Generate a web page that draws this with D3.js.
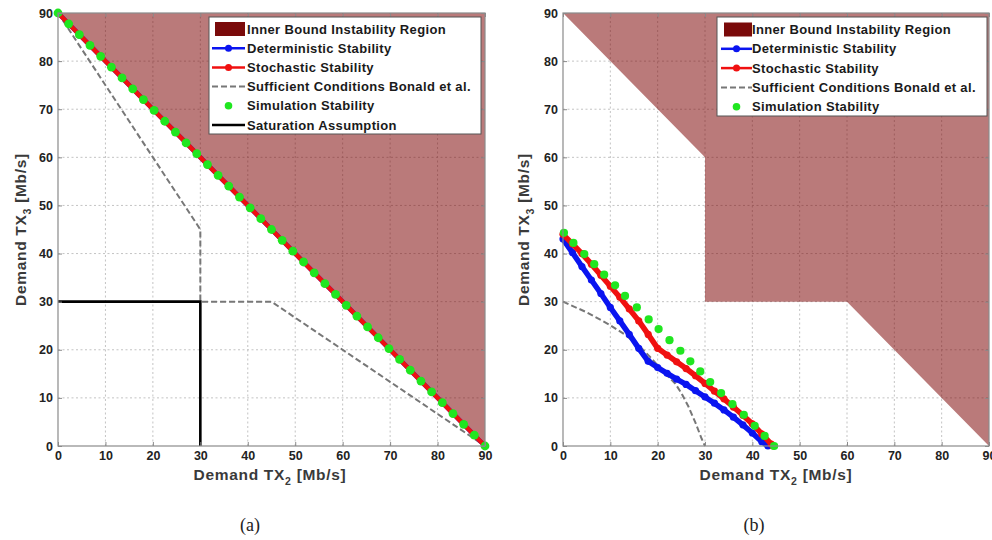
<!DOCTYPE html>
<html><head><meta charset="utf-8">
<script src="https://cdn.jsdelivr.net/npm/d3@7"></script>
<style>body{margin:0;background:#fff}svg{display:block}</style>
</head><body>
<svg id="c" width="992" height="540"></svg>
<script>
// ---------- data ----------
const xTicks = [0,10,20,30,40,50,60,70,80,90];
const yTicks = [0,10,20,30,40,50,60,70,80,90];

const legendLabels = ["Inner Bound Instability Region","Deterministic Stability","Stochastic Stability","Sufficient Conditions Bonald et al.","Simulation Stability","Saturation Assumption"];

// panel (a)
const regionA_x = [0,90,90];
const regionA_y = [90,90,0];
const detA_x = [0,4.5,9,13.5,18,22.5,27,31.5,36,40.5,45,49.5,54,58.5,63,67.5,72,76.5,81,85.5,90];
const detA_y = [90,85.5,81,76.5,72,67.5,63,58.5,54,49.5,45,40.5,36,31.5,27,22.5,18,13.5,9,4.5,0];
const stochA_x = [0,4.5,9,13.5,18,22.5,27,31.5,36,40.5,45,49.5,54,58.5,63,67.5,72,76.5,81,85.5,90];
const stochA_y = [90,85.5,81,76.5,72,67.5,63,58.5,54,49.5,45,40.5,36,31.5,27,22.5,18,13.5,9,4.5,0];
const bonaldA_x = [0,20,30,30,45,90];
const bonaldA_y = [90,60,45,30,30,0];
const simA_x = [0,2.25,4.5,6.75,9,11.25,13.5,15.75,18,20.25,22.5,24.75,27,29.25,31.5,33.75,36,38.25,40.5,42.75,45,47.25,49.5,51.75,54,56.25,58.5,60.75,63,65.25,67.5,69.75,72,74.25,76.5,78.75,81,83.25,85.5,87.75,90];
const simA_y = [90,87.75,85.5,83.25,81,78.75,76.5,74.25,72,69.75,67.5,65.25,63,60.75,58.5,56.25,54,51.75,49.5,47.25,45,42.75,40.5,38.25,36,33.75,31.5,29.25,27,24.75,22.5,20.25,18,15.75,13.5,11.25,9,6.75,4.5,2.25,0];
const satA_x = [0,30,30];
const satA_y = [30,30,0];

// panel (b)
const regionB_x = [0,30,30,60,90,90];
const regionB_y = [90,60,30,30,0,90];
const detB_x = [0,2,4,6,8,10,12,14,16,18,20,22,24,26,28,30,32,34,36,38,40,42,43.3];
const detB_y = [43,40.2,37.3,34.5,31.7,28.8,26,23.2,20.3,17.6,16.3,15.1,13.9,12.8,11.5,10.2,8.9,7.5,6,4.4,2.7,0.9,0];
const stochB_x = [0,2,4,6,8,10,12,14,16,18,20,22,24,26,28,30,32,34,36,38,40,42,44,44.4];
const stochB_y = [44,42,40,37.8,35.5,33.2,30.9,28.5,26,23.2,20.3,18.9,17.5,16.1,14.6,13,11.4,9.8,8.1,6.4,4.6,2.5,0.4,0];
const bonaldB_x = [0,5,10,13,16,18.7,21,23.7,25,26.5,28,29.3,30];
const bonaldB_y = [30,27.8,25.1,23.2,20.9,18.2,15.6,13,11,8.2,4.8,1.5,0];
const simB_x = [0.2,2.2,4.5,6.6,8.7,11,13.1,15.6,18.1,20.2,22.5,24.8,26.9,29,31.1,33.4,35.8,38.2,40.5,42.6,44.6];
const simB_y = [44.3,42.2,39.9,37.8,35.6,33.4,31.2,28.8,26.3,24.3,22,19.8,17.6,15.5,13.3,11,8.7,6.5,4.2,2.1,0];

// ---------- styles ----------
const C = {region:"#7a0000", det:"#0a14f0", stoch:"#f01010", bonald:"#777777", sim:"#20e620", sat:"#000000"};
const FONT = "'Liberation Sans', Arial, Helvetica, sans-serif";

const svg = d3.select("#c");
const zip = (xs, ys) => xs.map((v,i)=>[v, ys[i]]);

function panel(o){
  const g = svg.append("g");
  const x = d3.scaleLinear().domain([0,90]).range([o.x0, o.x1]);
  const y = d3.scaleLinear().domain([0,90]).range([o.y0, o.y1]);
  const line = d3.line().x(d=>x(d[0])).y(d=>y(d[1]));

  // grid
  const grid = g.append("g").attr("stroke","#bcbcbc").attr("stroke-width",0.9).attr("stroke-dasharray","2,2.5");
  grid.selectAll(".gx").data(xTicks.slice(1,-1)).join("line")
    .attr("x1",d=>x(d)).attr("x2",d=>x(d)).attr("y1",y(0)).attr("y2",y(90));
  grid.selectAll(".gy").data(yTicks.slice(1,-1)).join("line")
    .attr("y1",d=>y(d)).attr("y2",d=>y(d)).attr("x1",x(0)).attr("x2",x(90));

  // region
  g.append("path").datum(zip(o.rx,o.ry)).attr("d", d=>line(d)+"Z")
    .attr("fill",C.region).attr("fill-opacity",0.52).attr("stroke","none");

  // bonald
  g.append("path").datum(zip(o.bx,o.by)).attr("d",line).attr("fill","none")
    .attr("stroke",C.bonald).attr("stroke-width",2).attr("stroke-dasharray","6,3");

  if (o.sx){
    g.append("path").datum(zip(o.sx,o.sy)).attr("d",line).attr("fill","none")
      .attr("stroke",C.sat).attr("stroke-width",2.6);
  }

  // deterministic
  const det = zip(o.dx,o.dy);
  g.append("path").datum(det).attr("d",line).attr("fill","none").attr("stroke",C.det).attr("stroke-width",o.lw).attr("stroke-linejoin","round");
  g.selectAll(".dm").data(det).join("circle").attr("cx",d=>x(d[0])).attr("cy",d=>y(d[1])).attr("r",3.6).attr("fill",C.det);
  // stochastic
  const st = zip(o.stx,o.sty);
  g.append("path").datum(st).attr("d",line).attr("fill","none").attr("stroke",C.stoch).attr("stroke-width",o.lw).attr("stroke-linejoin","round");
  g.selectAll(".sm").data(st).join("circle").attr("cx",d=>x(d[0])).attr("cy",d=>y(d[1])).attr("r",3.6).attr("fill",C.stoch);
  // simulation
  g.selectAll(".sim").data(zip(o.mx,o.my)).join("circle")
    .attr("cx",d=>x(d[0])).attr("cy",d=>y(d[1])).attr("r",o.simR).attr("fill",C.sim);

  // box
  g.append("rect").attr("x",x(0)).attr("y",y(90)).attr("width",x(90)-x(0)).attr("height",y(0)-y(90))
    .attr("fill","none").attr("stroke","#8a8a8a").attr("stroke-width",1.2);

  // axes
  const ax = (axis, tr) => {
    const a = g.append("g").attr("transform",tr).call(axis);
    a.select(".domain").remove();
    a.selectAll("line").attr("stroke","#8a8a8a");
    a.selectAll("text").attr("font-family",FONT).attr("font-size",12.5).attr("font-weight","bold").attr("fill","#222");
    return a;
  };
  ax(d3.axisBottom(x).tickValues(xTicks).tickSizeInner(-4).tickSizeOuter(0).tickPadding(5), `translate(0,${y(0)})`);
  ax(d3.axisLeft(y).tickValues(yTicks).tickSizeInner(-4).tickSizeOuter(0).tickPadding(5), `translate(${x(0)},0)`);
  ax(d3.axisTop(x).tickValues(xTicks).tickSizeInner(-4).tickSizeOuter(0).tickFormat(""), `translate(0,${y(90)})`);
  ax(d3.axisRight(y).tickValues(yTicks).tickSizeInner(-4).tickSizeOuter(0).tickFormat(""), `translate(${x(90)},0)`);

  // axis labels
  const lab = (sel, sub) => {
    sel.attr("font-family",FONT).attr("font-size",15.5).attr("font-weight","bold").attr("letter-spacing",0.7).attr("fill","#3a3a3a");
    sel.append("tspan").text("Demand TX");
    sel.append("tspan").attr("font-size",10.5).attr("dy",5).text(sub);
    sel.append("tspan").attr("dy",-5).text(" [Mb/s]");
  };
  lab(svg.append("text").attr("x",o.xlX).attr("y",o.xlY).attr("text-anchor","middle"), "2");
  lab(svg.append("text").attr("transform",`translate(${o.ylX},${(y(0)+y(90))/2}) rotate(-90)`).attr("text-anchor","middle"), "3");

  // caption
  svg.append("text").attr("x",o.capX).attr("y",531).attr("text-anchor","middle")
    .attr("font-family","'Liberation Serif','DejaVu Serif',serif").attr("font-size",18).attr("fill","#222").text(o.cap);

  // legend
  const L = o.leg;
  const lg = svg.append("g");
  lg.append("rect").attr("x",L.x).attr("y",L.y).attr("width",L.w).attr("height",L.h)
    .attr("fill","#fff").attr("stroke","#555").attr("stroke-width",1);
  const types = ["patch","det","stoch","bonald","sim","sat"];
  for (let i=0;i<L.n;i++){
    const cy = L.row0 + i*L.step;
    const t = types[i];
    const mx = (L.s0+L.s1)/2;
    if (t==="patch"){
      lg.append("rect").attr("x",L.s0+3).attr("y",cy-7).attr("width",L.s1-L.s0-3).attr("height",14).attr("fill","#7a0a0a");
    } else if (t==="det"||t==="stoch"){
      const col = t==="det"?C.det:C.stoch;
      lg.append("line").attr("x1",L.s0).attr("x2",L.s1).attr("y1",cy).attr("y2",cy).attr("stroke",col).attr("stroke-width",2.5);
      lg.append("circle").attr("cx",mx).attr("cy",cy).attr("r",3.5).attr("fill",col);
    } else if (t==="bonald"){
      lg.append("line").attr("x1",L.s0).attr("x2",L.s1).attr("y1",cy).attr("y2",cy).attr("stroke",C.bonald).attr("stroke-width",2).attr("stroke-dasharray","6,3");
    } else if (t==="sim"){
      lg.append("circle").attr("cx",mx).attr("cy",cy).attr("r",3.8).attr("fill",C.sim);
    } else {
      lg.append("line").attr("x1",L.s0).attr("x2",L.s1).attr("y1",cy).attr("y2",cy).attr("stroke",C.sat).attr("stroke-width",2.6);
    }
    lg.append("text").attr("x",L.tx).attr("y",cy).attr("dy","0.35em").attr("font-family",FONT)
      .attr("font-size",13).attr("font-weight","bold").attr("letter-spacing",0.35).attr("fill","#1a1a1a").text(legendLabels[i]);
  }
}

panel({x0:58,x1:485,y0:446,y1:13,
  rx:regionA_x, ry:regionA_y, bx:bonaldA_x, by:bonaldA_y, sx:satA_x, sy:satA_y,
  dx:detA_x, dy:detA_y, stx:stochA_x, sty:stochA_y, mx:simA_x, my:simA_y, simR:4.4, lw:4.5,
  xlX:270, xlY:480, ylX:26, capX:250, cap:"(a)",
  leg:{x:209,y:17,w:272,h:117,n:6,row0:29,step:19.2,s0:212,s1:245,tx:247}});

panel({x0:563,x1:989,y0:446,y1:13,
  rx:regionB_x, ry:regionB_y, bx:bonaldB_x, by:bonaldB_y,
  dx:detB_x, dy:detB_y, stx:stochB_x, sty:stochB_y, mx:simB_x, my:simB_y, simR:4.1, lw:5.5,
  xlX:776, xlY:480, ylX:529, capX:754, cap:"(b)",
  leg:{x:717,y:17,w:270,h:99,n:5,row0:29.5,step:19.3,s0:721,s1:752,tx:752}});
</script>
</body></html>
